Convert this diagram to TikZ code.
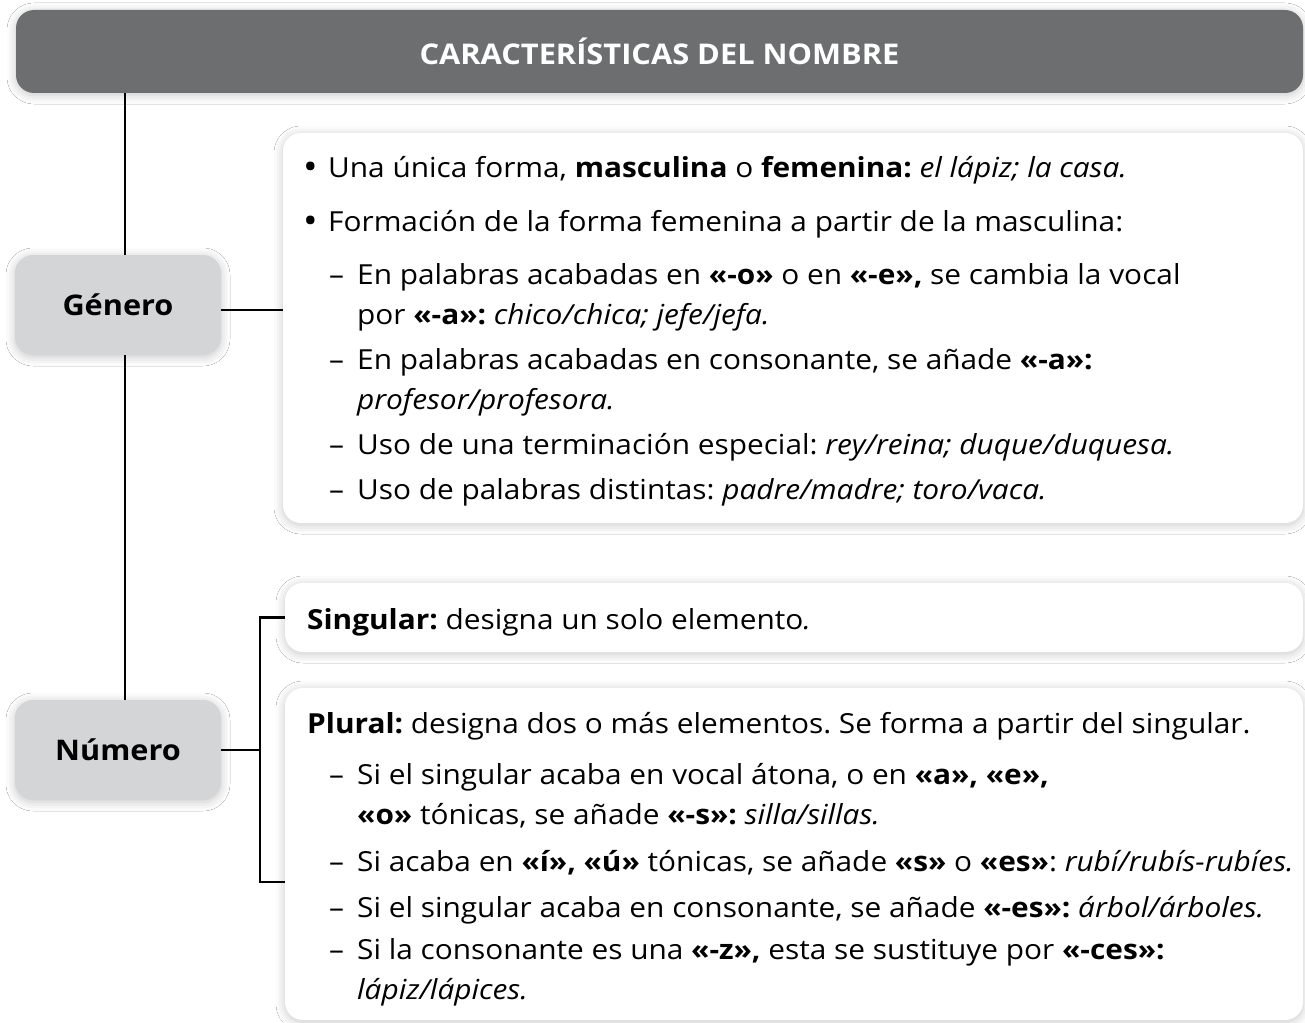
\documentclass[tikz,border=0pt]{standalone}
\usepackage{fontspec}
\setmainfont{Open Sans}[FakeStretch=1.08]
\usetikzlibrary{shadows.blur}
\definecolor{hdrgrey}{HTML}{6D6E70}
\definecolor{boxgrey}{HTML}{D4D5D7}
\tikzset{
  shad/.style={blur shadow={shadow xshift=0pt,shadow yshift=-2pt,shadow blur radius=9pt,shadow opacity=22}},
  hdr/.style={shad,fill=hdrgrey,rounded corners=18pt,minimum width=1287pt,minimum height=83pt,inner sep=0pt,text=white,font=\fontsize{28.5}{30}\selectfont\bfseries},
  catbox/.style={shad,fill=boxgrey,rounded corners=18pt,minimum width=206pt,minimum height=100pt,inner sep=0pt,font=\fontsize{28.4}{30}\selectfont\bfseries},
  cbox/.style={shad,fill=white,rounded corners=18pt,inner sep=0pt},
  txt/.style={anchor=base west,inner sep=0pt,font=\fontsize{27.6}{30}\selectfont\frenchspacing},
  conn/.style={line width=2.4pt,black}
}
\newcommand{\bul}{\makebox[25pt][l]{\raisebox{-2pt}{\scalebox{1.3}{•}}}}
\newcommand{\dsh}{\makebox[28pt][l]{–}}
\begin{document}
\begin{tikzpicture}[x=1pt,y=-1pt]
\useasboundingbox (0,0) rectangle (1305,1022);
\fill[white] (0,0) rectangle (1305,1022);
% boxes
\node[hdr] (head) at (659.5,51.5) {CARACTERÍSTICAS DEL NOMBRE};
\node[cbox,minimum width=1020pt,minimum height=390pt] (gbox) at (793,328) {};
\node[cbox,minimum width=1018pt,minimum height=69pt] (sing) at (794,617.5) {};
\node[cbox,minimum width=1018pt,minimum height=332pt] (plu) at (794,854) {};
\node[catbox] (gen) at (118,305) {Género};
\node[catbox] (num) at (118,750) {Número};
% connectors
\draw[conn] ([xshift=7pt]gen.north) -- ([xshift=7pt]gen.north |- head.south);
\draw[conn] ([xshift=7pt]gen.south) -- ([xshift=7pt]num.north);
\draw[conn] ([yshift=-5pt]gen.east) -- ([yshift=-5pt]gen.east -| gbox.west);
\coordinate (pbot) at (285,882);
\draw[conn] (num.east) -- ++(39,0);
\draw[conn] (sing.west) -| ([xshift=-25pt]pbot) -- (pbot);
% Género text
\node[txt] (g1) at (303,177) {\bul Una única forma, \textbf{masculina} o \textbf{femenina:} \textit{el lápiz; la casa.}};
\node[txt] (g2) at (303,231) {\bul Formación de la forma femenina a partir de la masculina:};
\node[txt] (g3) at (329,284) {\dsh En palabras acabadas en \textbf{«-o»} o en \textbf{«-e»,} se cambia la vocal};
\node[txt] (g4) at (357,324) {por \textbf{«-a»:} \textit{chico/chica; jefe/jefa.}};
\node[txt] (g5) at (329,369) {\dsh En palabras acabadas en consonante, se añade \textbf{«-a»:}};
\node[txt] (g6) at (357,409) {\textit{profesor/profesora.}};
\node[txt] (g7) at (329,454) {\dsh Uso de una terminación especial: \textit{rey/reina; duque/duquesa.}};
\node[txt] (g8) at (329,499) {\dsh Uso de palabras distintas: \textit{padre/madre; toro/vaca.}};
% Número text
\node[txt] (s1) at (307,629) {\textbf{Singular:} designa un solo elemento\textit{.}};
\node[txt] (p1) at (307,733) {\textbf{Plural:} designa dos o más elementos. Se forma a partir del singular.};
\node[txt] (p2) at (329,784) {\dsh Si el singular acaba en vocal átona, o en \textbf{«a», «e»,}};
\node[txt] (p3) at (357,824) {\textbf{«o»} tónicas, se añade \textbf{«-s»:} \textit{silla/sillas.}};
\node[txt] (p4) at (329,871) {\dsh Si acaba en \textbf{«í», «ú»} tónicas, se añade \textbf{«s»} o \textbf{«es»}: \textit{rubí/rubís-rubíes.}};
\node[txt] (p5) at (329,917) {\dsh Si el singular acaba en consonante, se añade \textbf{«-es»:} \textit{árbol/árboles.}};
\node[txt] (p6) at (329,959) {\dsh Si la consonante es una \textbf{«-z»,} esta se sustituye por \textbf{«-ces»:}};
\node[txt] (p7) at (357,999) {\textit{lápiz/lápices.}};
\end{tikzpicture}
\end{document}
